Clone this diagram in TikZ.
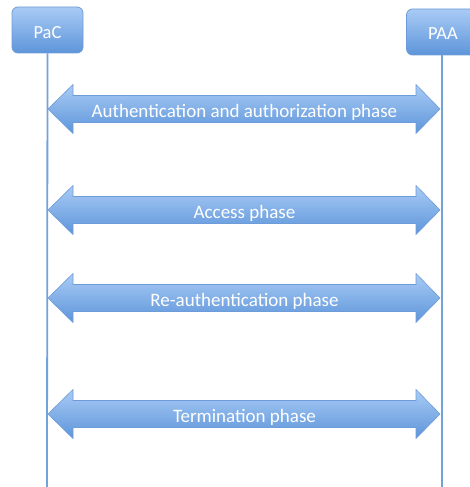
\documentclass[tikz,border=0pt]{standalone}
\usepackage{fontspec}
\setmainfont{Carlito}
\definecolor{boxtop}{HTML}{A9CBF5}
\definecolor{boxbot}{HTML}{5D95DA}
\definecolor{edge}{HTML}{6E9CD8}
\definecolor{life}{HTML}{72A2DA}
\tikzset{
  actor/.style={rounded corners=6pt, draw=edge, line width=0.8pt, top color=boxtop, bottom color=boxbot, minimum width=71pt, minimum height=46pt, inner sep=0pt},
  actorlabel/.style={text=white, font=\fontsize{18.5}{22}\selectfont, inner sep=0pt},
  lifeline/.style={draw=life, line width=1.8pt},
  phase/.style={draw=edge, line width=0.6pt, top color=boxtop, bottom color=boxbot},
  phaselabel/.style={text=white, font=\fontsize{19}{22}\selectfont, inner sep=0pt}
}
% draws a two-headed phase arrow between the lifelines, centred at height #1
\newcommand{\phasearrow}[3]{%
  \path[phase] (48,#1) -- (73,#1-24.5) -- (73,#1-13.5) -- (416,#1-13.5) -- (416,#1-24.5)
     -- (440,#1) -- (416,#1+24.5) -- (416,#1+13.5) -- (73,#1+13.5) -- (73,#1+24.5) -- cycle;
  \node[phaselabel] (#2) at (244.5,#1+3) {#3};}
\begin{document}
\begin{tikzpicture}[x=1pt,y=-1pt]
\useasboundingbox (0,0) rectangle (470,487);
\clip (0,0) rectangle (470,487);
\node[actor] (pac) at (47.5,30) {};
\node[actor] (paa) at (442,32) {};
\node[actorlabel] at (47.5,33) {PaC};
\node[actorlabel] at (443,34) {PAA};
\coordinate (pacend) at (47,487);
\coordinate (paaend) at (442,487);
\draw[lifeline] (pac.south) -- (pacend);
\draw[lifeline] (paa.south) -- (paaend);
\phasearrow{109}{auth}{Authentication and authorization phase}
\phasearrow{210}{access}{Access phase}
\phasearrow{298}{reauth}{Re-authentication phase}
\phasearrow{414}{term}{Termination phase}
\end{tikzpicture}
\end{document}
